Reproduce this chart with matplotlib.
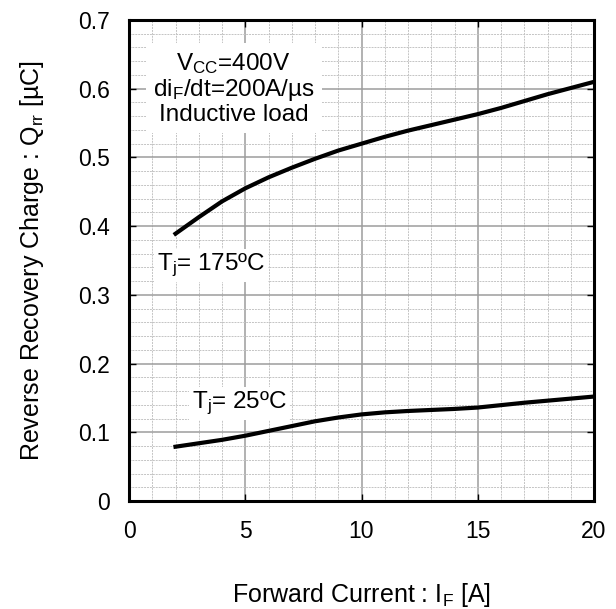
import matplotlib.pyplot as plt
from matplotlib.ticker import MultipleLocator
import numpy as np

plt.rcParams['font.family'] = ['Liberation Sans', 'DejaVu Sans']
plt.rcParams['mathtext.fontset'] = 'custom'
plt.rcParams['mathtext.rm'] = 'Liberation Sans'
plt.rcParams['mathtext.it'] = 'Liberation Sans'

# forward current [A]
i_f = [2, 3, 4, 5, 6, 7, 8, 9, 10, 11, 12, 13, 14, 15, 16, 17, 18, 19, 20]
# Qrr at Tj = 175 C [uC]
qrr_175 = [0.389, 0.413, 0.436, 0.455, 0.471, 0.485, 0.498, 0.510, 0.520, 0.530,
           0.539, 0.547, 0.555, 0.563, 0.572, 0.582, 0.592, 0.601, 0.610]
# Qrr at Tj = 25 C [uC]
qrr_25 = [0.079, 0.084, 0.089, 0.095, 0.102, 0.109, 0.116, 0.1215, 0.126, 0.129,
          0.131, 0.1325, 0.134, 0.136, 0.1395, 0.143, 0.146, 0.149, 0.152]

fig = plt.figure(figsize=(6.16, 6.09), dpi=100)
# axes box: x 129..594 px, y 20..501 px
ax = fig.add_axes([129 / 616, 1 - 501 / 609, 465 / 616, 481 / 609])

ax.plot(i_f, qrr_175, color='black', lw=3, zorder=4, solid_joinstyle='round')
ax.plot(i_f, qrr_25, color='black', lw=3, zorder=4, solid_joinstyle='round')

ax.set_xlim(0, 20)
ax.set_ylim(0, 0.7)
ax.xaxis.set_major_locator(MultipleLocator(5))
ax.xaxis.set_minor_locator(MultipleLocator(1))
ax.yaxis.set_minor_locator(MultipleLocator(0.02))
ax.set_yticks(np.arange(0, 0.71, 0.1))
ax.set_yticklabels(['0', '0.1', '0.2', '0.3', '0.4', '0.5', '0.6', '0.7'])

ax.grid(which='major', color='#9c9c9c', lw=1.1, ls='-')
ax.grid(which='minor', color='#c4c4c4', lw=0.7, ls=(0, (2, 1)))
ax.set_axisbelow(True)

ax.tick_params(which='major', direction='in', length=5, width=1, labelsize=16.5,
               top=True, right=True, pad=14)
ax.tick_params(which='minor', length=0)
for s in ax.spines.values():
    s.set_linewidth(2.2)

ax.set_xlabel('Forward Current : I$_\\mathregular{F}$ [A]', fontsize=18, labelpad=27)
ax.set_ylabel('Reverse Recovery Charge : Q$_\\mathregular{rr}$ [\u00b5C]', fontsize=18, labelpad=23)

ax.text(4.5, 0.5536, 'V$_\\mathregular{CC}$=400V\ndi$_\\mathregular{F}$/dt=200A/\u00b5s\nInductive load',
        ha='center', va='baseline', multialignment='center', fontsize=17.5,
        linespacing=1.05, zorder=3,
        bbox=dict(facecolor='white', edgecolor='none', pad=5))
ax.text(1.19, 0.336, 'T$_\\mathregular{j}$= 175\u00baC', ha='left', va='baseline',
        fontsize=17.5, zorder=3,
        bbox=dict(facecolor='white', edgecolor='none', pad=2))
ax.text(2.70, 0.135, 'T$_\\mathregular{j}$= 25\u00baC', ha='left', va='baseline',
        fontsize=17.5, zorder=3,
        bbox=dict(facecolor='white', edgecolor='none', pad=2))

fig.savefig('out.png', dpi=100)
